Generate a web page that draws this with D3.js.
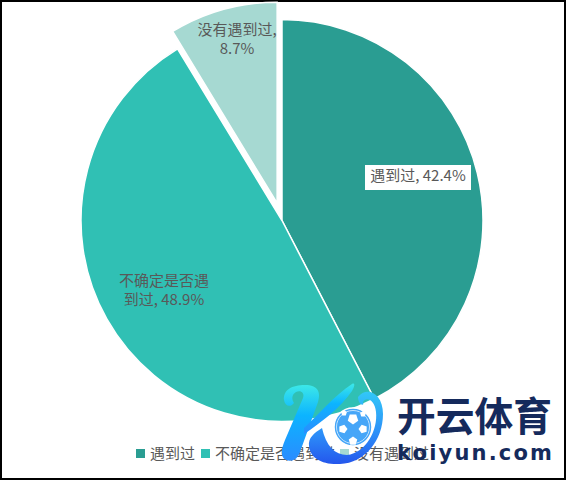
<!DOCTYPE html>
<html><head><meta charset="utf-8">
<script src="https://cdn.jsdelivr.net/npm/d3@7/dist/d3.min.js"></script>
<style>html,body{margin:0;padding:0;background:#fff}svg{display:block}text{font-family:"Noto Sans CJK SC","Noto Sans",sans-serif}</style>
</head><body><div id="c"></div>
<script>
const categories = ["遇到过","不确定是否遇到过","没有遇到过"];
const values = [42.4,48.9,8.7];
const colors = ["#2a9d92","#30c0b4","#a6d9d2"];
const explode = [0,0,18];
const labelLines = [["遇到过, 42.4%"],["不确定是否遇","到过, 48.9%"],["没有遇到过,","8.7%"]];
const labelBoxed = [true,false,false];
const labelAnchors = [[418,176],[164,281],[237,30]];
const legendX = [136,201,340];

const W=566,H=480,cx=282,cy=220.5,R=201;
const svg=d3.select("#c").append("svg").attr("width",W).attr("height",H);
svg.append("rect").attr("x",1).attr("y",1).attr("width",W-2).attr("height",H-2).attr("fill","#fff").attr("stroke","#000").attr("stroke-width",2);

const pie=d3.pie().sort(null).value(d=>d);
const arc=d3.arc().innerRadius(0).outerRadius(R);
const arcs=pie(values);
const g=svg.append("g").attr("transform",`translate(${cx},${cy})`);
g.selectAll("path").data(arcs).join("path")
 .attr("d",arc).attr("fill",(d,i)=>colors[i]).attr("stroke","#fff").attr("stroke-width",1.5)
 .attr("transform",(d,i)=>{const a=(d.startAngle+d.endAngle)/2;return `translate(${Math.sin(a)*explode[i]},${-Math.cos(a)*explode[i]})`;});

const lab=svg.append("g");
labelLines.forEach((lines,i)=>{
  const [x,y]=labelAnchors[i];
  if(labelBoxed[i]) lab.append("rect").attr("x",x-53).attr("y",y-11).attr("width",106).attr("height",25).attr("fill","#fff");
  lines.forEach((t,j)=>lab.append("text").attr("x",x).attr("y",y+j*18.5).attr("dy","0.35em").attr("text-anchor","middle").attr("font-size",15).attr("fill","#595959").text(t));
});

const leg=svg.append("g");
categories.forEach((c,i)=>{
  leg.append("rect").attr("x",legendX[i]).attr("y",449).attr("width",9).attr("height",9).attr("fill",colors[i]);
  leg.append("text").attr("x",legendX[i]+14).attr("y",454).attr("dy","0.35em").attr("font-size",15).attr("fill","#595959").text(c);
});

// watermark
const defs=svg.append("defs");
const gr=defs.append("linearGradient").attr("id","kg").attr("x1",0).attr("y1",0).attr("x2",0).attr("y2",1);
gr.append("stop").attr("offset","0").attr("stop-color","#3ce8e8");
gr.append("stop").attr("offset",".4").attr("stop-color","#0cb4ff");
gr.append("stop").attr("offset","1").attr("stop-color","#2a8cff");
const gr2=defs.append("linearGradient").attr("id","kg2").attr("x1",0).attr("y1",0).attr("x2",0).attr("y2",1);
gr2.append("stop").attr("offset","0").attr("stop-color","#32c8f8");
gr2.append("stop").attr("offset",".6").attr("stop-color","#2c8cf8");
gr2.append("stop").attr("offset","1").attr("stop-color","#2456ec");
const wm=svg.append("g");
wm.append("path").attr("fill","url(#kg)").attr("d","M284 400C283 390 292 385 305 385C318 385 321 392 318 402L300 452C297 463 284 463 282 455C281 450 283 445 285 440L303 398C305 392 300 390 296 392C291 395 292 400 294 403C290 408 285 406 284 400Z");
wm.append("path").attr("fill","url(#kg)").attr("d","M304 428C318 415 335 395 352 384C356 382 354 388 352 391C340 408 322 422 304 434Z");
wm.append("path").attr("fill","url(#kg2)").attr("d","M358 397C366 386 383 392 383 414C383 440 365 463 340 464C322 465 310 458 309 446C308 438 314 433 322 428C326 446 335 455 347 455C366 453 378 430 376 412C375 400 366 396 363 402C365 407 358 405 358 397Z");
wm.append("circle").attr("cx",353).attr("cy",427).attr("r",19).attr("fill","#46a6f8").attr("stroke","#fff").attr("stroke-width",1.5);
wm.append("circle").attr("cx",353).attr("cy",427).attr("r",16.5).attr("fill","none").attr("stroke","#bfe2ff").attr("stroke-width",1);
const ngon=(x,y,r,rot)=>d3.range(5).map(k=>{const a=rot+k*2*Math.PI/5;return [x+r*Math.sin(a),y-r*Math.cos(a)];});
[[353,419,5.5,3.14],[343,429,4.5,0.3],[363,429,4.5,-0.3],[353,441,4.5,0],[344,413,3,0],[363,414,3,0]].forEach(p=>wm.append("path").attr("d",d3.line()(ngon(p[0],p[1],p[2],p[3]))+"Z").attr("fill","#fff"));
wm.append("text").attr("x",397).attr("y",431).attr("font-size",40).attr("font-weight",700).attr("fill","#152a5c").attr("textLength",155).attr("lengthAdjust","spacingAndGlyphs").text("开云体育");
wm.append("text").attr("x",397).attr("y",460).attr("font-size",21).attr("font-weight",700).attr("fill","#152a5c").attr("textLength",155).attr("lengthAdjust","spacing").attr("style",'font-family:"DejaVu Sans"').text("koiyun.com");
</script></body></html>
